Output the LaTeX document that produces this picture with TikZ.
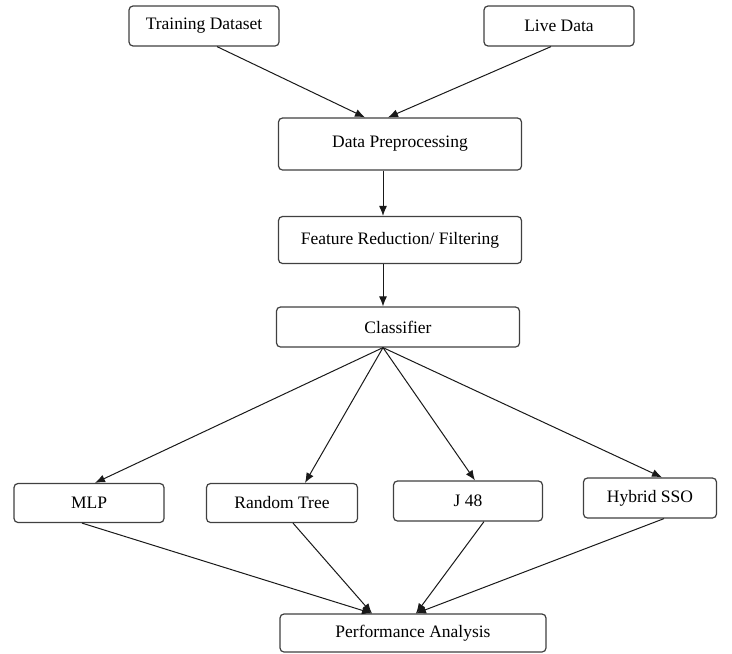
\documentclass[tikz,border=0pt]{standalone}
\usepackage{fontspec}
\setmainfont{Liberation Serif}
\usepackage{tikz}
\usetikzlibrary{arrows.meta,positioning}
\tikzset{every node/.append style={transform shape=false}}
\tikzset{box/.style={draw=black!75, line width=1.2pt, rounded corners=4pt, fill=white,
    inner sep=0pt, font=\fontsize{17.5}{20}\selectfont}}
\tikzset{flow/.style={-{Latex[length=10pt,width=8pt]}, line width=1pt, draw=black!90}}

\begin{document}
\begin{tikzpicture}[x=1pt,y=-1pt]
  \useasboundingbox (0,0) rectangle (732,654);

  \node[box, minimum width=150, minimum height=40] (train) at (204,26) {Training Dataset};
  \node[box, minimum width=150, minimum height=40] (live) at (559,26) {Live Data};
  \node[box, minimum width=243, minimum height=52] (prep) at (400,144) {Data Preprocessing};
  \node[box, minimum width=243, minimum height=47] (feat) at (400,240) {Feature Reduction/ Filtering};
  \node[box, minimum width=243, minimum height=40] (clf) at (398,327) {Classifier};

  \node[box, minimum width=150, minimum height=39] (mlp) at (89,503) {MLP};
  \node[box, minimum width=151, minimum height=39] (rtree) at (282,503) {Random Tree};
  \node[box, minimum width=149, minimum height=40] (jfe) at (468,501) {J 48};
  \node[box, minimum width=133, minimum height=40] (sso) at (650,498) {Hybrid SSO};

  \node[box, minimum width=266, minimum height=38] (perf) at (413,633) {Performance Analysis};

  \draw[flow] ([xshift=13]train.south) -- ([xshift=-35]prep.north);
  \draw[flow] ([xshift=-8]live.south) -- ([xshift=-12]prep.north);
  \draw[flow] ([xshift=-17]prep.south) -- ([xshift=-17]feat.north);
  \draw[flow] ([xshift=-17]feat.south) -- ([xshift=-15]clf.north);

  % classifier fans out
  \draw[flow] ([xshift=-15]clf.south) -- ([xshift=6]mlp.north);
  \draw[flow] ([xshift=-15]clf.south) -- ([xshift=23]rtree.north);
  \draw[flow] ([xshift=-15]clf.south) -- ([xshift=7]jfe.north);
  \draw[flow] ([xshift=-15]clf.south) -- ([xshift=12]sso.north);

  \draw[flow] ([xshift=-7]mlp.south) -- ([xshift=-41]perf.north);
  \draw[flow] ([xshift=11]rtree.south) -- ([xshift=-41]perf.north);
  \draw[flow] ([xshift=16]jfe.south) -- ([xshift=3]perf.north);
  \draw[flow] ([xshift=14]sso.south) -- ([xshift=3]perf.north);
\end{tikzpicture}
\end{document}
